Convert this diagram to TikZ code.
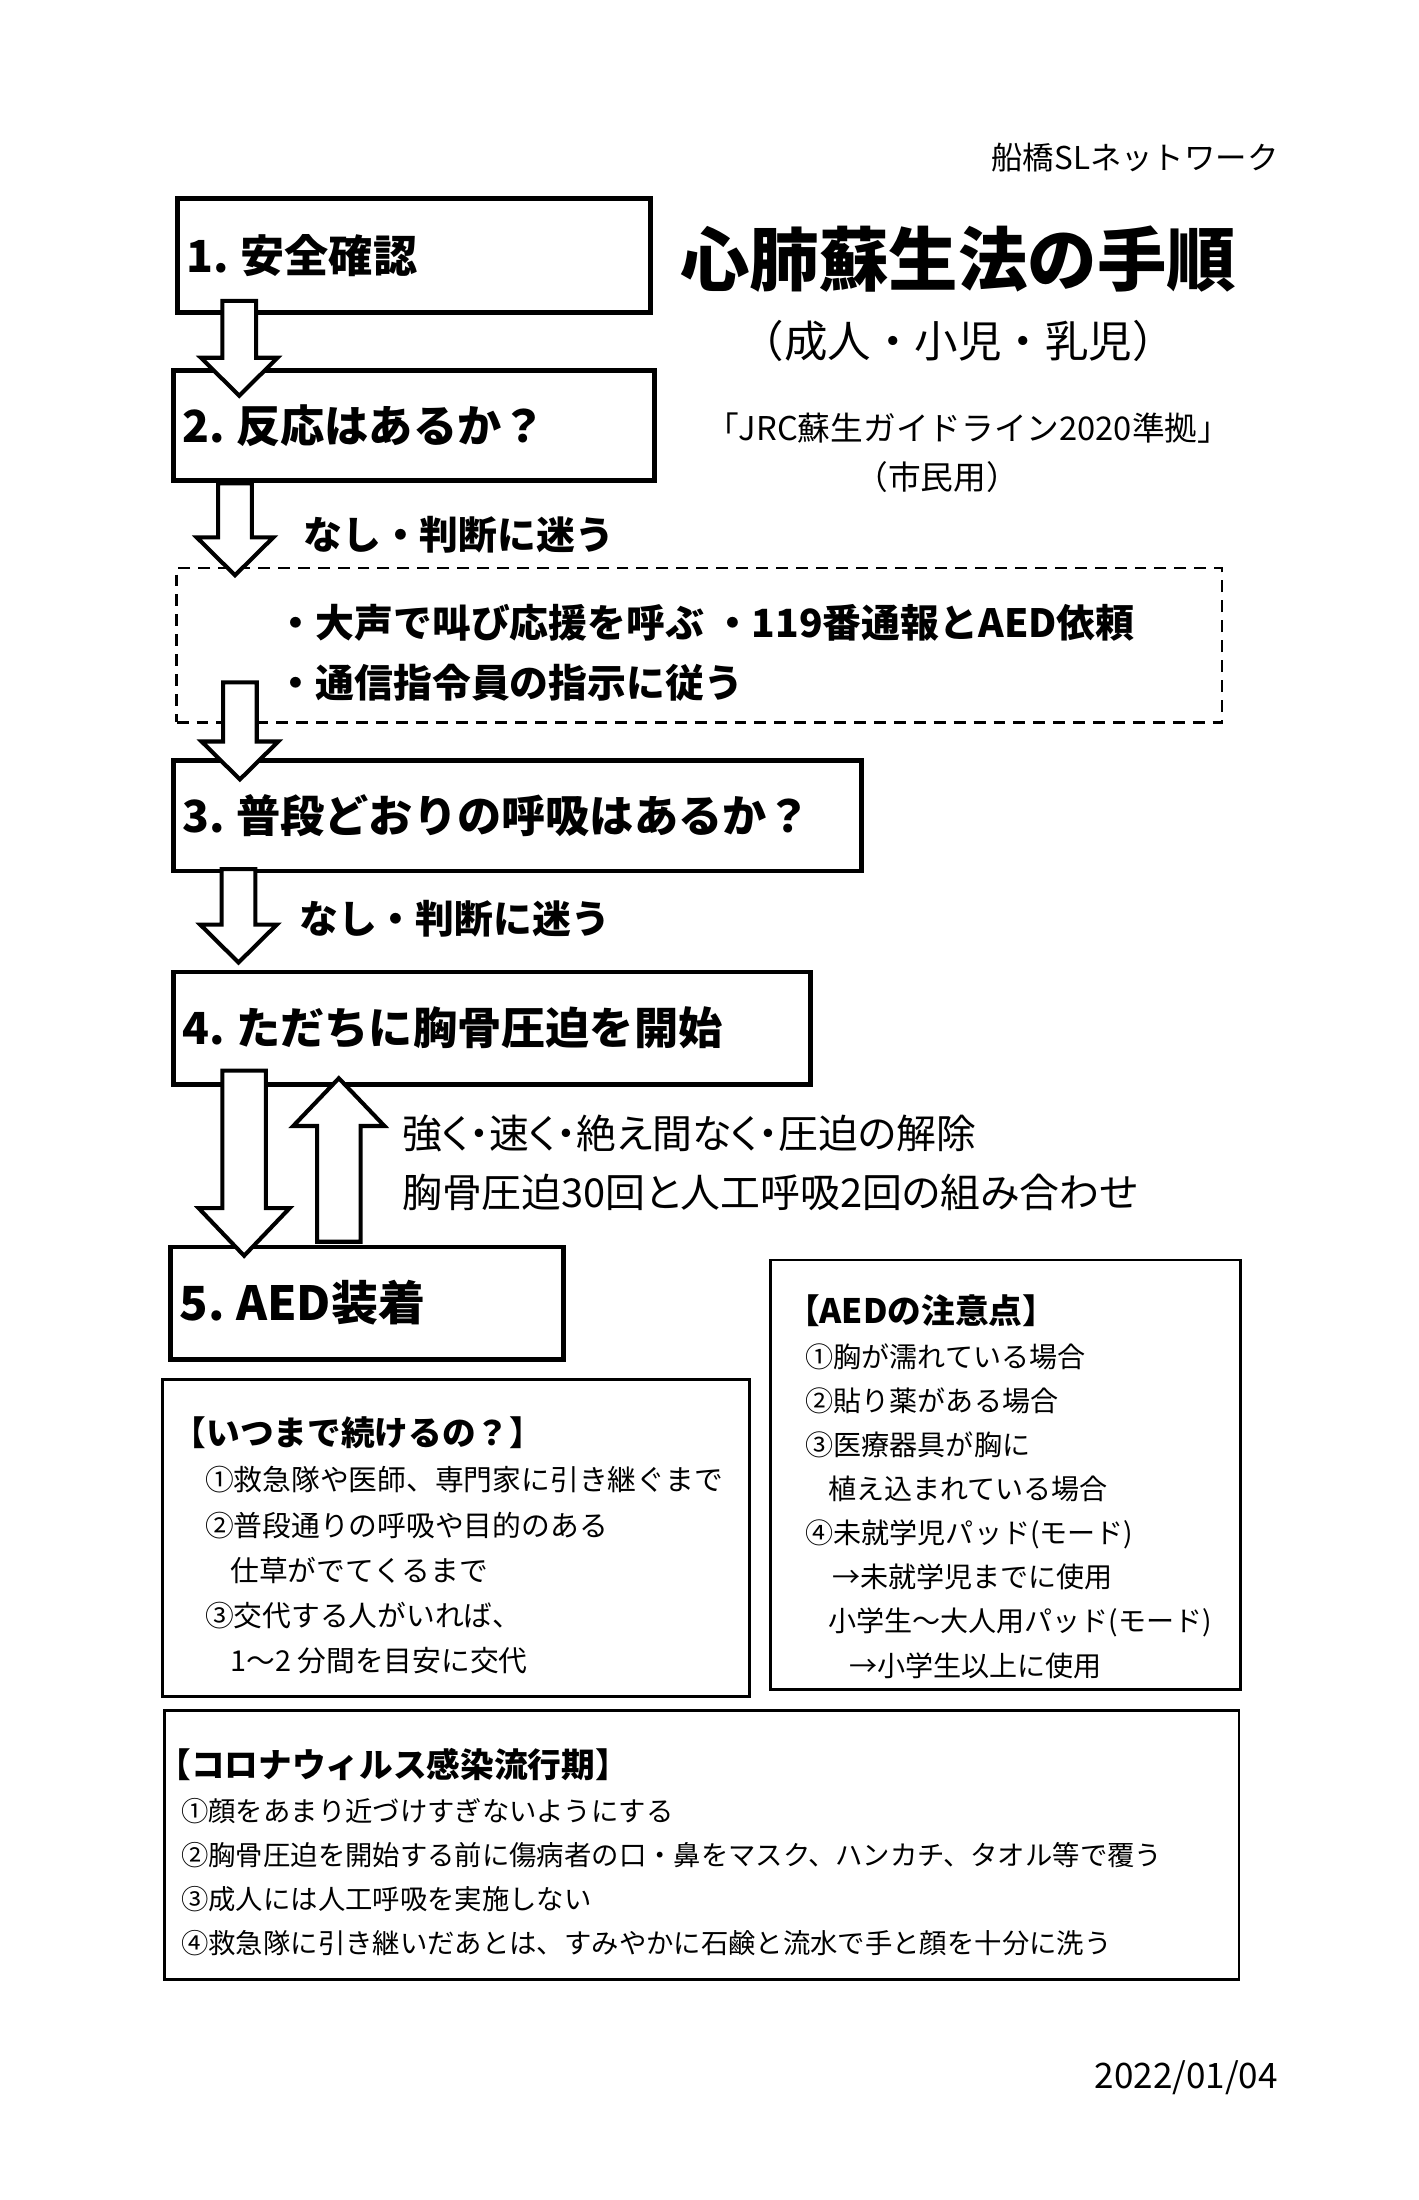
\documentclass[tikz,border=0pt]{standalone}
\usepackage{fontspec}
\setmainfont{Noto Sans CJK JP}
\newfontfamily\propfont[RawFeature=+palt]{Noto Sans CJK JP}
\usepackage{tikz}
\usetikzlibrary{calc, positioning}

\tikzset{
  hollow/.style n args={3}{draw=black, fill=white, line width=2.9pt, line join=miter,
    to path={let \p1=(\tikztostart), \p2=(\tikztotarget), \p3=($(\p2)!#3!(\p1)$) in
      ($(\p1)!#1!90:(\p2)$) -- ($(\p3)!#1!-90:(\p1)$) -- ($(\p3)!#2!-90:(\p1)$) -- (\p2)
      -- ($(\p3)!#2!90:(\p1)$) -- ($(\p3)!#1!90:(\p1)$) -- ($(\p1)!#1!-90:(\p2)$) -- cycle}}
}
\tikzstyle{stepbox} = [rectangle, draw=black, line width=3.5pt, anchor=north west, align=left, inner xsep=6.5pt, font=\bfseries\fontsize{31.5}{36}\selectfont]
\tikzstyle{callbox} = [rectangle, draw=black, line width=1.8pt, dash pattern=on 8.5pt off 5.7pt, anchor=north west]
\tikzstyle{infobox} = [rectangle, draw=black, line width=2pt, anchor=north west]
\tikzstyle{titletext} = [inner sep=0pt]
\tikzstyle{notetext} = [anchor=west, inner sep=0pt, align=left]
\tikzstyle{blockarrow} = [hollow={12pt}{27.3pt}{27pt}]
\tikzstyle{bigblock} = [hollow={15.5pt}{32.5pt}{34pt}]

\begin{document}
\begin{tikzpicture}[x=1pt, y=-1pt]
  \fill[white] (0,0) rectangle (1011,1568);
  \useasboundingbox (0,0) rectangle (1011,1568);

  % title block
  \node (net) [titletext, font=\fontsize{22.4}{26}\selectfont] at (809,112) {船橋SLネットワーク};
  \node (title) [titletext, font=\bfseries\fontsize{49.5}{56}\selectfont] at (683,185) {心肺蘇生法の手順};
  \node (sub) [titletext, font=\fontsize{31}{36}\selectfont] at (683,243) {（成人・小児・乳児）};
  \node (jrc) [titletext, font=\fontsize{23.3}{27}\selectfont] at (690,305) {「JRC蘇生ガイドライン2020準拠」};
  \node (civ) [titletext, font=\fontsize{23.3}{27}\selectfont] at (668,340) {（市民用）};

  % steps
  \node (box1) [stepbox, text width=324pt, minimum height=81pt] at (125,140) {1.\hspace{8pt}安全確認};
  \node (box2) [stepbox, text width=330pt, minimum height=79pt] at (122,262) {2.\hspace{8pt}反応はあるか？};
  \node (call) [callbox, minimum width=745pt, minimum height=110pt] at (125,404) {};
  \node (box3) [stepbox, text width=477pt, minimum height=79pt] at (122,540) {3.\hspace{8pt}普段どおりの呼吸はあるか？};
  \node (box4) [stepbox, text width=441pt, minimum height=80pt] at (122,691) {4.\hspace{8pt}ただちに胸骨圧迫を開始};
  \node (box5) [stepbox, text width=267pt, minimum height=80pt, font=\bfseries\fontsize{33.5}{40}\selectfont] at (120,887) {5.\hspace{8pt}AED装着};

  \node (no1) [notetext, font=\bfseries\fontsize{27.7}{32}\selectfont] at (216,381) {なし・判断に迷う};
  \node (calltext) [notetext, font=\bfseries\fontsize{27.7}{43}\selectfont] at ($(call.west)+(72,5.5)$) {・大声で叫び応援を呼ぶ ・119番通報とAED依頼\\・通信指令員の指示に従う};
  \node (no2) [notetext, font=\bfseries\fontsize{27.7}{32}\selectfont] at (213,655) {なし・判断に迷う};
  \node (cpr) [notetext, font=\propfont\fontsize{28.4}{42}\selectfont] at (286.5,829) {強く・速く・絶え間なく・圧迫の解除\\胸骨圧迫30回と人工呼吸2回の組み合わせ};

  % arrows over the box borders
  \draw [blockarrow] ($(box1.south west)+(45.5,-10)$) to ($(box2.north west)+(48.5,20)$);
  \draw [blockarrow] ($(box2.south west)+(45.5,0)$) to ($(call.north west)+(42.5,6)$);
  \draw [blockarrow] ($(call.south west)+(46,-29.5)$) to ($(box3.north west)+(49,15.5)$);
  \draw [blockarrow] ($(box3.south west)+(48,-3)$) to ($(box4.north west)+(48,-5)$);
  \draw [bigblock] ($(box4.south west)+(52,-11.5)$) to ($(box5.north west)+(54,8)$);
  \draw [bigblock] ($(box5.north west)+(121.5,-2)$) to ($(box4.south west)+(119.5,-6)$);

  % notes
  \node (keep) [infobox, minimum width=418pt, minimum height=226pt] at (115,982) {};
  \node (aed) [infobox, minimum width=335pt, minimum height=306pt] at (548,897) {};
  \node (corona) [infobox, minimum width=766pt, minimum height=192pt] at (116,1218) {};

  \node (keeptext) [notetext, font=\fontsize{20.5}{32.2}\selectfont] at ($(keep.west)+(8,5.5)$) {{\bfseries\fontsize{24}{32.2}\selectfont 【いつまで続けるの？】}\\
    \hspace*{23pt}①救急隊や医師、専門家に引き継ぐまで\\
    \hspace*{23pt}②普段通りの呼吸や目的のある\\
    \hspace*{41pt}仕草がでてくるまで\\
    \hspace*{23pt}③交代する人がいれば、\\
    \hspace*{41pt}1～2 分間を目安に交代};
  \node (aedtext) [notetext, font=\fontsize{20}{31.4}\selectfont] at ($(aed.west)+(12,8.5)$) {{\bfseries\fontsize{24}{31.4}\selectfont 【AEDの注意点】}\\
    \hspace*{14pt}①胸が濡れている場合\\
    \hspace*{14pt}②貼り薬がある場合\\
    \hspace*{14pt}③医療器具が胸に\\
    \hspace*{30pt}植え込まれている場合\\
    \hspace*{14pt}④未就学児パッド(モード)\\
    \hspace*{33pt}→未就学児までに使用\\
    \hspace*{30pt}小学生～大人用パッド(モード)\\
    \hspace*{45pt}→小学生以上に使用};
  \node (coronatext) [notetext, font=\fontsize{19.5}{31.5}\selectfont] at ($(corona.west)+(-4,5)$) {{\bfseries\fontsize{24}{31.5}\selectfont 【コロナウィルス感染流行期】}\\
    \hspace*{17pt}①顔をあまり近づけすぎないようにする\\
    \hspace*{17pt}②胸骨圧迫を開始する前に傷病者の口・鼻をマスク、ハンカチ、タオル等で覆う\\
    \hspace*{17pt}③成人には人工呼吸を実施しない\\
    \hspace*{17pt}④救急隊に引き継いだあとは、すみやかに石鹸と流水で手と顔を十分に洗う};

  \node (date) [titletext, anchor=east, font=\fontsize{25}{30}\selectfont] at (911,1481) {2022/01/04};
\end{tikzpicture}
\end{document}
